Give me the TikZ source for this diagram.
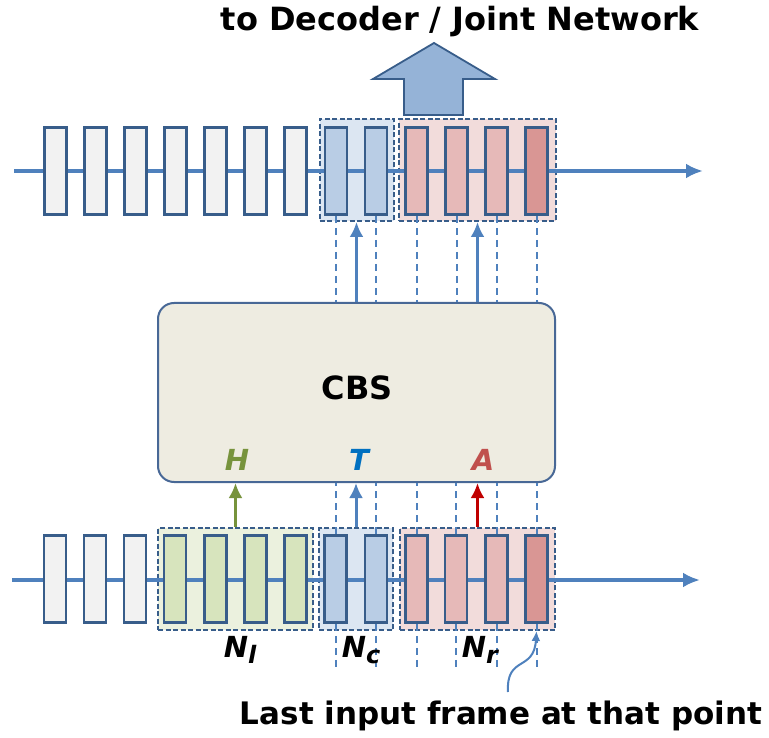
\documentclass[tikz,border=0pt]{standalone}
\usepackage{fontspec}
\setmainfont{DejaVu Sans}
\usepackage{color}
\definecolor{mylineblue}{RGB}{79,129,189}
\definecolor{myboxdraw}{RGB}{56,93,138}
\definecolor{mygray}{RGB}{242,242,242}
\definecolor{mygreen}{RGB}{215,228,189}
\definecolor{mygreenframe}{RGB}{235,241,222}
\definecolor{myblue}{RGB}{185,205,229}
\definecolor{myblueframe}{RGB}{220,230,242}
\definecolor{myred}{RGB}{230,185,184}
\definecolor{mydarkred}{RGB}{217,150,148}
\definecolor{myredframe}{RGB}{242,220,219}
\definecolor{mybeige}{RGB}{238,236,225}
\definecolor{mycbsdraw}{RGB}{72,104,150}
\definecolor{myHgreen}{RGB}{119,147,60}
\definecolor{myTblue}{RGB}{0,112,192}
\definecolor{myAred}{RGB}{192,80,77}
\definecolor{myarrowred}{RGB}{192,0,0}
\definecolor{mybigarrow}{RGB}{149,179,215}
\usepackage{tikz}
\usetikzlibrary{arrows.meta,positioning}
\newcommand{\lblsub}[1]{\raisebox{-6pt}{\fontsize{24}{26}\selectfont #1}}
\tikzstyle{framebox}=[draw=myboxdraw,line width=2pt,dash pattern=on 5pt off 2.5pt,minimum width=74pt,minimum height=102pt,inner sep=0pt]
\tikzstyle{frm}=[draw=myboxdraw,line width=2.6pt,fill=mygray,minimum width=22pt,minimum height=87pt,inner sep=0pt]
\tikzstyle{timeline}=[draw=mylineblue,line width=3.5pt,-{Latex[length=17pt,width=15pt]}]
\tikzstyle{dashline}=[draw=mylineblue,line width=2pt,dash pattern=on 7pt off 5pt]
\tikzstyle{uparrow}=[draw=mylineblue,line width=3pt,-{Latex[length=15pt,width=14pt]}]
\tikzstyle{lbl}=[font=\fontsize{29}{31}\selectfont\bfseries\itshape,inner sep=0pt]

\begin{document}
\begin{tikzpicture}[x=1pt,y=-1pt]
\useasboundingbox (0,0) rectangle (769,738);
% top row
\draw (356.5, 170) node [framebox, fill=myblueframe] (tc) {};
\draw (477.5, 170) node [framebox, fill=myredframe, minimum width=157pt] (tr) {};
\coordinate (tstart) at (14, 171);
\coordinate (tend) at (703, 171);
\draw[timeline] (tstart) -- (tend);
\draw (55.5, 171) node [frm] (t1) {};
\draw (95.5, 171) node [frm] (t2) {};
\draw (135.5, 171) node [frm] (t3) {};
\draw (175.5, 171) node [frm] (t4) {};
\draw (215.5, 171) node [frm] (t5) {};
\draw (255.5, 171) node [frm] (t6) {};
\draw (295.5, 171) node [frm] (t7) {};
\draw (336, 171) node [frm, fill=myblue] (t8) {};
\draw (376, 171) node [frm, fill=myblue] (t9) {};
\draw (416.5, 171) node [frm, fill=myred] (t10) {};
\draw (456.5, 171) node [frm, fill=myred] (t11) {};
\draw (496.5, 171) node [frm, fill=myred] (t12) {};
\draw (536.5, 171) node [frm, fill=mydarkred] (t13) {};
% output arrow
\draw[draw=myboxdraw, line width=1.8pt, fill=mybigarrow] (404,115) -- (404,79) -- (373,79) -- (434,43) -- (495,79) -- (463,79) -- (463,115) -- cycle;
\draw (460, 22) node [font=\fontsize{32}{36}\selectfont\bfseries] (title) {to Decoder / Joint Network};
% CBS block
\draw (356.5, 392.5) node [draw=mycbsdraw, line width=2pt, fill=mybeige, rounded corners=16pt, minimum width=397pt, minimum height=179pt] (cbs) {};
\draw (357, 388) node [font=\fontsize{32}{34}\selectfont\bfseries] (cbstext) {CBS};
\draw (237, 460) node [lbl, text=myHgreen] (H) {H};
\draw (359, 460) node [lbl, text=myTblue] (T) {T};
\draw (483, 460) node [lbl, text=myAred] (A) {A};
\draw[dashline] (t8.south) -- (t8.south |- cbs.north);
\draw[dashline] (t9.south) -- (t9.south |- cbs.north);
\draw[dashline] (t10.south) -- (t10.south |- cbs.north);
\draw[dashline] (t11.south) -- (t11.south |- cbs.north);
\draw[dashline] (t12.south) -- (t12.south |- cbs.north);
\draw[dashline] (t13.south) -- (t13.south |- cbs.north);
\draw[uparrow] (tc.south |- cbs.north) -- (tc.south);
\draw[uparrow] (tr.south |- cbs.north) -- (tr.south);
% bottom row
\draw (235.5, 579) node [framebox, fill=mygreenframe, minimum width=155pt] (bl) {};
\draw (356, 579) node [framebox, fill=myblueframe] (bc) {};
\draw (477.5, 579) node [framebox, fill=myredframe, minimum width=155pt] (br) {};
\coordinate (bstart) at (12, 580);
\coordinate (bend) at (700, 580);
\draw[timeline] (bstart) -- (bend);
\draw (55, 579) node [frm] (b1) {};
\draw (95, 579) node [frm] (b2) {};
\draw (135, 579) node [frm] (b3) {};
\draw (175, 579) node [frm, fill=mygreen] (b4) {};
\draw (215.5, 579) node [frm, fill=mygreen] (b5) {};
\draw (255.5, 579) node [frm, fill=mygreen] (b6) {};
\draw (295.5, 579) node [frm, fill=mygreen] (b7) {};
\draw (335.5, 579) node [frm, fill=myblue] (b8) {};
\draw (376, 579) node [frm, fill=myblue] (b9) {};
\draw (416.5, 579) node [frm, fill=myred] (b10) {};
\draw (456, 579) node [frm, fill=myred] (b11) {};
\draw (496.5, 579) node [frm, fill=myred] (b12) {};
\draw (536.5, 579) node [frm, fill=mydarkred] (b13) {};
\draw[dashline] (b8.north) -- (b8.north |- cbs.south);
\draw[dashline] (b9.north) -- (b9.north |- cbs.south);
\draw[dashline] (b10.north) -- (b10.north |- cbs.south);
\draw[dashline] (b11.north) -- (b11.north |- cbs.south);
\draw[dashline] (b12.north) -- (b12.north |- cbs.south);
\draw[dashline] (b13.north) -- (b13.north |- cbs.south);
\draw[dashline] (b8.south) -- +(0, 45);
\draw[dashline] (b9.south) -- +(0, 45);
\draw[dashline] (b10.south) -- +(0, 45);
\draw[dashline] (b11.south) -- +(0, 45);
\draw[dashline] (b12.south) -- +(0, 45);
\draw[dashline] (b13.south) -- +(0, 45);
\draw[uparrow, draw=myHgreen, fill=myHgreen] (bl.north) -- (bl.north |- cbs.south);
\draw[uparrow, fill=mylineblue] (bc.north) -- (bc.north |- cbs.south);
\draw[uparrow, draw=myarrowred, fill=myarrowred] (br.north) -- (br.north |- cbs.south);
\draw (240, 657) node [lbl, anchor=base] (Nl) {N\lblsub{l}};
\draw (361, 657) node [lbl, anchor=base] (Nc) {N\lblsub{c}};
\draw (480, 657) node [lbl, anchor=base] (Nr) {N\lblsub{r}};
% last frame pointer
\draw (501, 716) node [font=\fontsize{31}{34}\selectfont\bfseries] (last) {Last input frame at that point};
\coordinate (lastpt) at (508, 692);
\draw[draw=mylineblue, line width=2pt, -{Latex[length=10pt,width=9pt]}] (lastpt) .. controls (506, 655) and (534, 672) .. (b13.south |- br.south);
\end{tikzpicture}
\end{document}
